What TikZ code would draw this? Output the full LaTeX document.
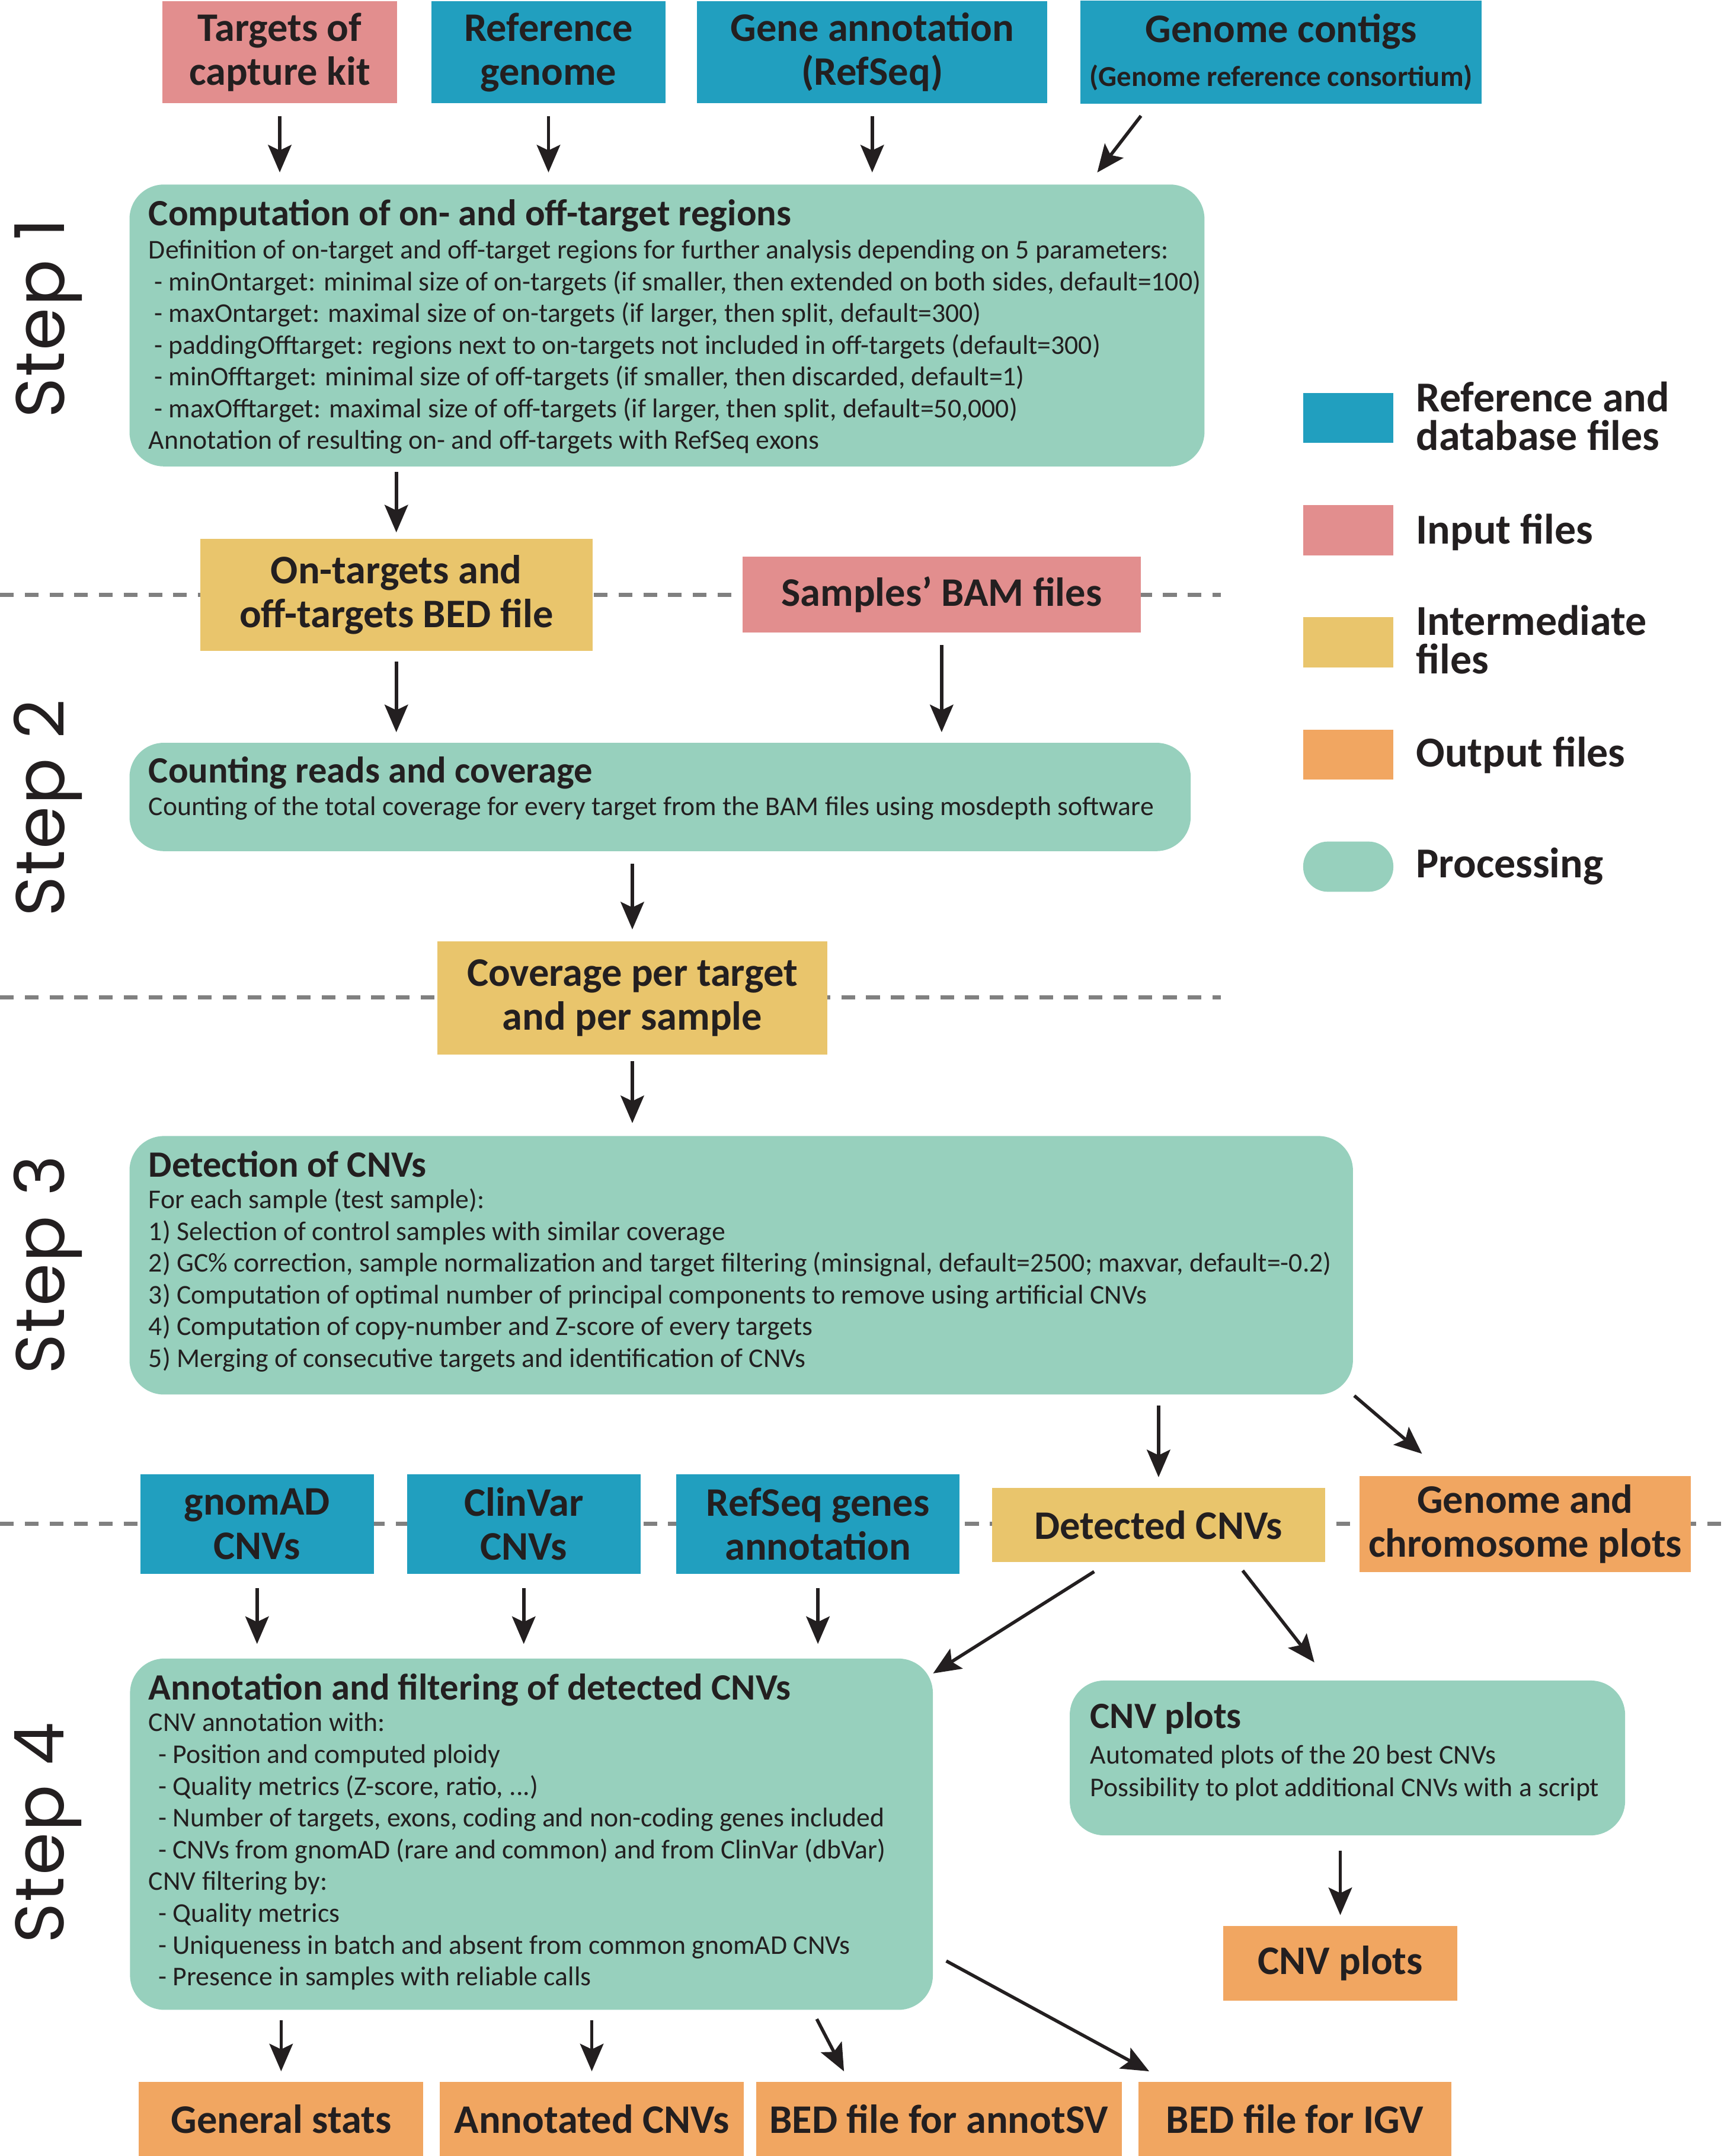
\documentclass[tikz,border=0pt]{standalone}
\usepackage{fontspec}
\setmainfont{Carlito}
\newfontfamily\stepfont{Poppins}[LetterSpace=2]
\usetikzlibrary{arrows.meta}

\definecolor{refblue}{RGB}{33,159,191}
\definecolor{inpink}{RGB}{226,142,142}
\definecolor{midyellow}{RGB}{233,197,108}
\definecolor{outorange}{RGB}{241,166,97}
\definecolor{procgreen}{RGB}{151,208,189}
\definecolor{ink}{RGB}{35,31,32}
\definecolor{sepgray}{RGB}{128,128,128}

\newcommand\proctitle[1]{{\fontsize{27}{23}\selectfont\bfseries #1}}

\begin{document}
\begin{tikzpicture}[x=1pt, y=-1pt,
    filebox/.style={rectangle, inner sep=0pt, align=center, text=ink,
        font=\fontsize{29.5}{32}\selectfont\bfseries},
    procbox/.style={rectangle, rounded corners=25pt, fill=procgreen,
        anchor=north west, inner sep=0pt},
    proctext/.style={anchor=north west, inner sep=0pt, align=left, text=ink,
        font=\fontsize{19.7}{23.1}\selectfont},
    legendbox/.style={rectangle, inner sep=0pt, minimum width=65.6pt, minimum height=36.5pt},
    legendtext/.style={anchor=west, inner sep=0pt, align=left, text=ink,
        font=\fontsize{31}{28}\selectfont\bfseries},
    steplabel/.style={rotate=90, inner sep=0pt, text=ink,
        font=\stepfont\fontsize{50}{50}\selectfont},
    sepline/.style={draw=sepgray, line width=3pt, dash pattern=on 10pt off 8pt}]

\useasboundingbox (0,0) rectangle (1254,1568);
\fill[white] (0,0) rectangle (1254,1568);

% dashed separators between the steps
\draw[sepline] (0,432.7) -- (888,432.7);
\draw[sepline] (0,725.5) -- (888,725.5);
\draw[sepline] (0,1108) -- (1254,1108);

% step labels
\node[steplabel] (lab1) at (35,231.5) {Step 1};
\node[steplabel] (lab2) at (35,587.7) {Step 2};
\node[steplabel] (lab3) at (35,920) {Step 3};
\node[steplabel] (lab4) at (35,1333) {Step 4};

% step 1
\node[filebox, fill=inpink, minimum width=171pt, minimum height=74pt] (kit) at (203.5,38) {Targets of\\capture kit};
\node[filebox, fill=refblue, minimum width=170pt, minimum height=74pt] (refgen) at (399,38) {Reference\\genome};
\node[filebox, fill=refblue, minimum width=255pt, minimum height=74pt] (geneann) at (634.5,38) {Gene annotation\\(RefSeq)};
\node[filebox, fill=refblue, minimum width=292pt, minimum height=75pt] (contigs) at (932,38) {Genome contigs\\{\fontsize{21}{24}\selectfont(Genome reference consortium)}};

\node[procbox, minimum width=782pt, minimum height=205pt] (step1) at (94,134) {};
\node[proctext] (step1txt) at (108,145) {\proctitle{Computation of on- and off-target regions}\\[0.9pt]
Definition of on-target and off-target regions for further analysis depending on 5 parameters:\\
\hspace*{4pt}- minOntarget: minimal size of on-targets (if smaller, then extended on both sides, default=100)\\
\hspace*{4pt}- maxOntarget: maximal size of on-targets (if larger, then split, default=300)\\
\hspace*{4pt}- paddingOfftarget: regions next to on-targets not included in off-targets (default=300)\\
\hspace*{4pt}- minOfftarget: minimal size of off-targets (if smaller, then discarded, default=1)\\
\hspace*{4pt}- maxOfftarget: maximal size of off-targets (if larger, then split, default=50,000)\\
Annotation of resulting on- and off-targets with RefSeq exons};

% legend
\node[legendbox, fill=refblue] (legref) at (980.8,304) {};
\node[legendtext] (legreftxt) at (1030,302.5) {Reference and\\database files};
\node[legendbox, fill=inpink] (legin) at (980.8,385.5) {};
\node[legendtext] (legintxt) at (1030,387) {Input files};
\node[legendbox, fill=midyellow] (legmid) at (980.8,467) {};
\node[legendtext] (legmidtxt) at (1030,465) {Intermediate\\files};
\node[legendbox, fill=outorange] (legout) at (980.8,548.8) {};
\node[legendtext] (legouttxt) at (1030,549) {Output files};
\node[legendbox, fill=procgreen, rounded corners=18pt] (legproc) at (980.8,630.3) {};
\node[legendtext] (legproctxt) at (1030,630) {Processing};

% step 2
\node[filebox, fill=midyellow, minimum width=285.4pt, minimum height=81.6pt] (ontarg) at (288.3,432.7) {On-targets and\\off-targets BED file};
\node[filebox, fill=inpink, minimum width=290pt, minimum height=55.3pt] (bam) at (685,432.5) {Samples' BAM files};

\node[procbox, minimum width=772pt, minimum height=78.8pt] (step2) at (94,540) {};
\node[proctext] (step2txt) at (108,550) {\proctitle{Counting reads and coverage}\\[0.9pt]
Counting of the total coverage for every target from the BAM files using mosdepth software};

\node[filebox, fill=midyellow, minimum width=284pt, minimum height=82.3pt] (coverage) at (460,725.8) {Coverage per target\\and per sample};

% step 3
\node[procbox, minimum width=890pt, minimum height=188pt] (step3) at (94,826) {};
\node[proctext] (step3txt) at (108,836.6) {\proctitle{Detection of CNVs}\\
For each sample (test sample):\\
1) Selection of control samples with similar coverage\\
2) GC\% correction, sample normalization and target filtering (minsignal, default=2500; maxvar, default=-0.2)\\
3) Computation of optimal number of principal components to remove using artificial CNVs\\
4) Computation of copy-number and Z-score of every targets\\
5) Merging of consecutive targets and identification of CNVs};

\node[filebox, fill=refblue, minimum width=170pt, minimum height=72.2pt] (gnomad) at (187,1108.4) {gnomAD\\CNVs};
\node[filebox, fill=refblue, minimum width=170pt, minimum height=72.2pt] (clinvar) at (381,1108.4) {ClinVar\\CNVs};
\node[filebox, fill=refblue, minimum width=206pt, minimum height=72.2pt] (refseqg) at (595,1108.4) {RefSeq genes\\annotation};
\node[filebox, fill=midyellow, minimum width=242.4pt, minimum height=54.1pt] (detected) at (842.8,1109) {Detected CNVs};
\node[filebox, fill=outorange, minimum width=241pt, minimum height=69.8pt] (gplots) at (1109.5,1108.3) {Genome and\\chromosome plots};

% step 4
\node[procbox, minimum width=584pt, minimum height=255.5pt] (step4) at (94.4,1206) {};
\node[proctext] (step4txt) at (108,1217) {\proctitle{Annotation and filtering of detected CNVs}\\
CNV annotation with:\\
\hspace*{7pt}- Position and computed ploidy\\
\hspace*{7pt}- Quality metrics (Z-score, ratio, ...)\\
\hspace*{7pt}- Number of targets, exons, coding and non-coding genes included\\
\hspace*{7pt}- CNVs from gnomAD (rare and common) and from ClinVar (dbVar)\\
CNV filtering by:\\
\hspace*{7pt}- Quality metrics\\
\hspace*{7pt}- Uniqueness in batch and absent from common gnomAD CNVs\\
\hspace*{7pt}- Presence in samples with reliable calls};

\node[procbox, minimum width=404pt, minimum height=112.6pt] (cnvproc) at (778,1222) {};
\node[proctext] (cnvproctxt) at (793,1237.6) {\proctitle{CNV plots}\\[3pt]
Automated plots of the 20 best CNVs\\[0.5pt]
Possibility to plot additional CNVs with a script};

\node[filebox, fill=outorange, minimum width=170pt, minimum height=54.4pt] (cnvplots) at (975,1427.7) {CNV plots};

\node[filebox, fill=outorange, minimum width=207pt, minimum height=54pt] (gstats) at (204.5,1541) {General stats};
\node[filebox, fill=outorange, minimum width=221pt, minimum height=54pt] (annotated) at (430.5,1541) {Annotated CNVs};
\node[filebox, fill=outorange, minimum width=266pt, minimum height=54pt] (annotsv) at (683,1541) {BED file for annotSV};
\node[filebox, fill=outorange, minimum width=228pt, minimum height=54pt] (igv) at (942,1541) {BED file for IGV};

% connectors
\begin{scope}[>={Stealth[length=20pt, width=17pt, inset=4pt]},
              every edge/.style={draw=ink, line width=2.4pt}]
    \path [->] (kit.south) edge[shorten <=9.5pt, shorten >=8.6pt] (kit.south |- step1.north);
    \path [->] (refgen.south) edge[shorten <=9.5pt, shorten >=8.6pt] (refgen.south |- step1.north);
    \path [->] (geneann.south) edge[shorten <=9.5pt, shorten >=8.6pt] (geneann.south |- step1.north);
    \path [->] ([xshift=-95.4pt]contigs.south) edge[shorten <=10.8pt, shorten >=10.8pt] ([xshift=306.4pt]step1.north);
    \path [->] (ontarg.north |- step1.south) edge[shorten <=3.8pt, shorten >=4.5pt] (ontarg.north);

    \path [->] (ontarg.south) edge[shorten <=7.5pt, shorten >=7.5pt] (ontarg.south |- step2.north);
    \path [->] (bam.south) edge[shorten <=8.8pt, shorten >=7.5pt] (bam.south |- step2.north);
    \path [->] (coverage.north |- step2.south) edge[shorten <=9pt, shorten >=8.5pt] (coverage.north);

    \path [->] (coverage.south) edge[shorten <=4.5pt, shorten >=9.2pt] (coverage.south |- step3.north);
    \path [->] (detected.north |- step3.south) edge[shorten <=7.6pt, shorten >=7.4pt] (detected.north);
    \path [->] (step3.south east) edge[shorten <=1pt, shorten >=24.5pt] ([xshift=-56.4pt]gplots.north);

    \path [->] (gnomad.south) edge[shorten <=10.3pt, shorten >=10.4pt] (gnomad.south |- step4.north);
    \path [->] (clinvar.south) edge[shorten <=10.3pt, shorten >=10.4pt] (clinvar.south |- step4.north);
    \path [->] (refseqg.south) edge[shorten <=10.3pt, shorten >=10.4pt] (refseqg.south |- step4.north);
    \path [->] ([xshift=-36.2pt]detected.south) edge[shorten <=12.6pt] ([yshift=-11pt]step4.north east);
    \path [->] ([xshift=56.5pt]detected.south) edge[shorten <=7.6pt, shorten >=16.5pt] ([xshift=-13.9pt]cnvproc.north);
    \path [->] (cnvplots.north |- cnvproc.south) edge[shorten <=10.9pt, shorten >=7.5pt] (cnvplots.north);

    \path [->] (gstats.north |- step4.south) edge[shorten <=7.3pt, shorten >=7.4pt] (gstats.north);
    \path [->] (annotated.north |- step4.south) edge[shorten <=7.3pt, shorten >=7.4pt] (annotated.north);
    \path [->] ([xshift=204.2pt]step4.south) edge[shorten <=7.3pt, shorten >=8.3pt] ([xshift=-65.2pt]annotsv.north);
    \path [->] ([yshift=-87pt]step4.east) edge[shorten <=10.9pt, shorten >=15.5pt] ([xshift=-92.4pt]igv.north);
\end{scope}
\end{tikzpicture}
\end{document}
